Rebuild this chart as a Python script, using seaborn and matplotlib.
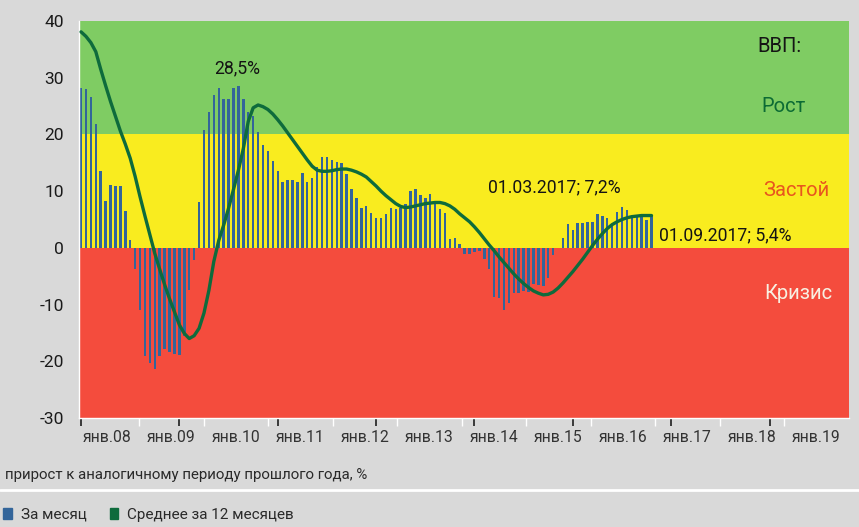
import numpy as np
import matplotlib.pyplot as plt
import seaborn as sns
from matplotlib.patches import Patch
from matplotlib.lines import Line2D

# %% Данные: ВВП, прирост к аналогичному периоду прошлого года, %
# помесячно, янв.2008 - сен.2017
za_mesyac = [
    28.2, 28.1, 26.6, 21.9, 13.6, 8.3, 11.0, 10.9, 10.9, 6.5, 1.3, -3.8,
    -10.9, -19.1, -20.3, -21.4, -19.1, -17.8, -18.3, -18.7, -18.9, -15.6, -7.4, -2.1,
    8.1, 20.7, 24.0, 26.9, 28.2, 26.2, 26.3, 28.2, 28.5, 26.2, 24.0, 23.2,
    20.4, 18.2, 17.0, 15.4, 13.5, 11.7, 12.0, 12.0, 11.7, 13.2, 11.6, 12.3,
    14.2, 16.0, 16.0, 15.5, 15.2, 15.0, 13.1, 10.4, 8.8, 7.0, 7.3, 6.1,
    5.3, 5.3, 5.9, 7.0, 6.8, 7.0, 7.8, 10.0, 10.3, 9.4, 8.8, 9.5,
    8.2, 6.9, 6.2, 1.6, 1.7, 0.7, -1.0, -1.1, -0.7, -0.6, -2.0, -3.8,
    -8.7, -8.8, -11.0, -9.8, -7.9, -7.9, -7.6, -7.8, -6.3, -6.5, -6.8, -5.4,
    -1.3, 0.0, 1.7, 4.2, 3.2, 4.4, 4.4, 4.6, 4.6, 5.9, 5.7, 5.2,
    4.0, 6.4, 7.2, 6.6, 5.7, 5.6, 5.6, 4.9, 5.6,
]
srednee_12 = [
    38.1, 37.3, 36.2, 34.6, 31.5, 28.6, 25.8, 23.2, 20.6, 18.3, 15.8, 12.6,
    9.0, 5.6, 2.3, -1.0, -3.8, -6.5, -9.0, -11.3, -13.6, -15.1, -16.0, -15.5,
    -14.2, -11.5, -7.5, -2.4, 1.3, 4.0, 7.0, 10.3, 13.7, 17.5, 22.3, 24.7,
    25.2, 24.9, 24.4, 23.6, 22.6, 21.5, 20.3, 19.1, 17.9, 16.7, 15.5, 14.4,
    13.7, 13.5, 13.5, 13.6, 13.8, 13.9, 13.9, 13.7, 13.4, 13.0, 12.5, 11.7,
    10.9, 10.0, 9.2, 8.5, 7.8, 7.3, 7.1, 7.2, 7.4, 7.6, 7.8, 7.9,
    8.0, 8.0, 7.8, 7.4, 6.8, 6.0, 5.3, 4.6, 3.7, 2.7, 1.6, 0.5,
    -0.5, -1.6, -2.6, -3.6, -4.6, -5.5, -6.3, -7.0, -7.6, -8.0, -8.3, -8.2,
    -7.8, -7.1, -6.2, -5.2, -4.2, -3.1, -2.0, -0.8, 0.4, 1.5, 2.5, 3.4,
    4.1, 4.6, 5.0, 5.3, 5.5, 5.6, 5.7, 5.7, 5.7,
]
goda = ['янв.08', 'янв.09', 'янв.10', 'янв.11', 'янв.12', 'янв.13',
        'янв.14', 'янв.15', 'янв.16', 'янв.17', 'янв.18', 'янв.19']
zony = {'Рост': (20, 40), 'Застой': (0, 20), 'Кризис': (-30, 0)}

mesyacy = np.arange(len(za_mesyac))

# %% Цвета
cor_fundo = '#d9d9d9'
cor_zona = {'Рост': '#7fcc63', 'Застой': '#f9ec1f', 'Кризис': '#f44c3d'}
cor_barra = '#33659a'
cor_linha = '#0e6b3c'

sns.set_theme(style='white')
plt.rcParams['font.family'] = ['Liberation Sans Narrow', 'Roboto', 'DejaVu Sans']
plt.rcParams['axes.unicode_minus'] = False  # обычный дефис, как в оригинале

fig = plt.figure(figsize=(8.59, 5.27), dpi=100, facecolor=cor_fundo)
ax = fig.add_axes([0.092, 0.207, 0.896, 0.753])

# зоны
for nome, (y0, y1) in zony.items():
    ax.axhspan(y0, y1, color=cor_zona[nome], lw=0, zorder=0)

# столбцы и линия
sns.barplot(x=mesyacy, y=za_mesyac, native_scale=True, color=cor_barra,
            saturation=1, width=0.5, edgecolor='none', linewidth=0,
            ax=ax, zorder=2)
sns.lineplot(x=mesyacy, y=srednee_12, color=cor_linha, linewidth=2.4,
             ax=ax, zorder=3)

ax.set_xlim(-0.41, 156.1)
ax.set_ylim(-30, 40)
ax.set_yticks(range(-30, 41, 10))
ax.tick_params(axis='y', colors='white', labelcolor='#1a1a1a', length=7,
               width=1, labelsize=12.5, pad=4)
ax.tick_params(axis='x', bottom=False, labelbottom=False)
ax.set_xlabel('')
ax.set_ylabel('')
for lado in ['top', 'right']:
    ax.spines[lado].set_visible(False)
for lado in ['left', 'bottom']:
    ax.spines[lado].set_color('white')
    ax.spines[lado].set_linewidth(1)

# ось с годами
ax2 = ax.twiny()
ax2.set_xlim(0.066, 12.0)
ax2.xaxis.tick_bottom()
ax2.set_xticks(range(1, 12))
ax2.set_xticklabels([])
ax2.set_xticks(np.arange(12) + 0.5, labels=goda, minor=True)
ax2.tick_params(which='major', colors='white', length=6, width=1)
ax2.tick_params(which='minor', length=0, labelsize=11.3, labelcolor='#333333', pad=9)
for lado in ax2.spines:
    ax2.spines[lado].set_visible(False)

# подписи зон
ax.text(0.91, 0.935, 'ВВП:', transform=ax.transAxes, ha='center', va='center',
        fontsize=14.5, color='#141414')
ax.text(0.915, 0.786, 'Рост', transform=ax.transAxes, ha='center', va='center',
        fontsize=14.5, color='#0c6b34')
ax.text(0.932, 0.574, 'Застой', transform=ax.transAxes, ha='center', va='center',
        fontsize=14.5, color='#e8561e')
ax.text(0.935, 0.313, 'Кризис', transform=ax.transAxes, ha='center', va='center',
        fontsize=14.5, color='#f7f0e2')

# аннотации
ax.text(31.7, 31.7, '28,5%', ha='center', va='center', fontsize=12.7, color='#141414')
ax.text(96.3, 10.6, '01.03.2017; 7,2%', ha='center', va='center', fontsize=12.7,
        color='#141414')
ax.text(117.6, 2.2, '01.09.2017; 5,4%', ha='left', va='center', fontsize=12.7,
        color='#141414')

# подпись и легенда
fig.text(0.006, 0.0985, 'прирост к аналогичному периоду прошлого года, %',
         ha='left', va='center', fontsize=10.8, color='#2a2a2a')
fig.add_artist(Line2D([0, 1], [0.07, 0.07], transform=fig.transFigure,
                      color='white', lw=2))
maos = [Patch(color=cor_barra, label='За месяц'),
        Patch(color=cor_linha, label='Среднее за 12 месяцев')]
fig.legend(handles=maos, loc='lower left', bbox_to_anchor=(-0.012, -0.016),
           ncol=2, frameon=False, fontsize=11, handlelength=0.55,
           handleheight=0.8, handletextpad=0.6, columnspacing=1.5,
           labelcolor='#2a2a2a')

fig.savefig('out.png', dpi=100, facecolor=cor_fundo)
